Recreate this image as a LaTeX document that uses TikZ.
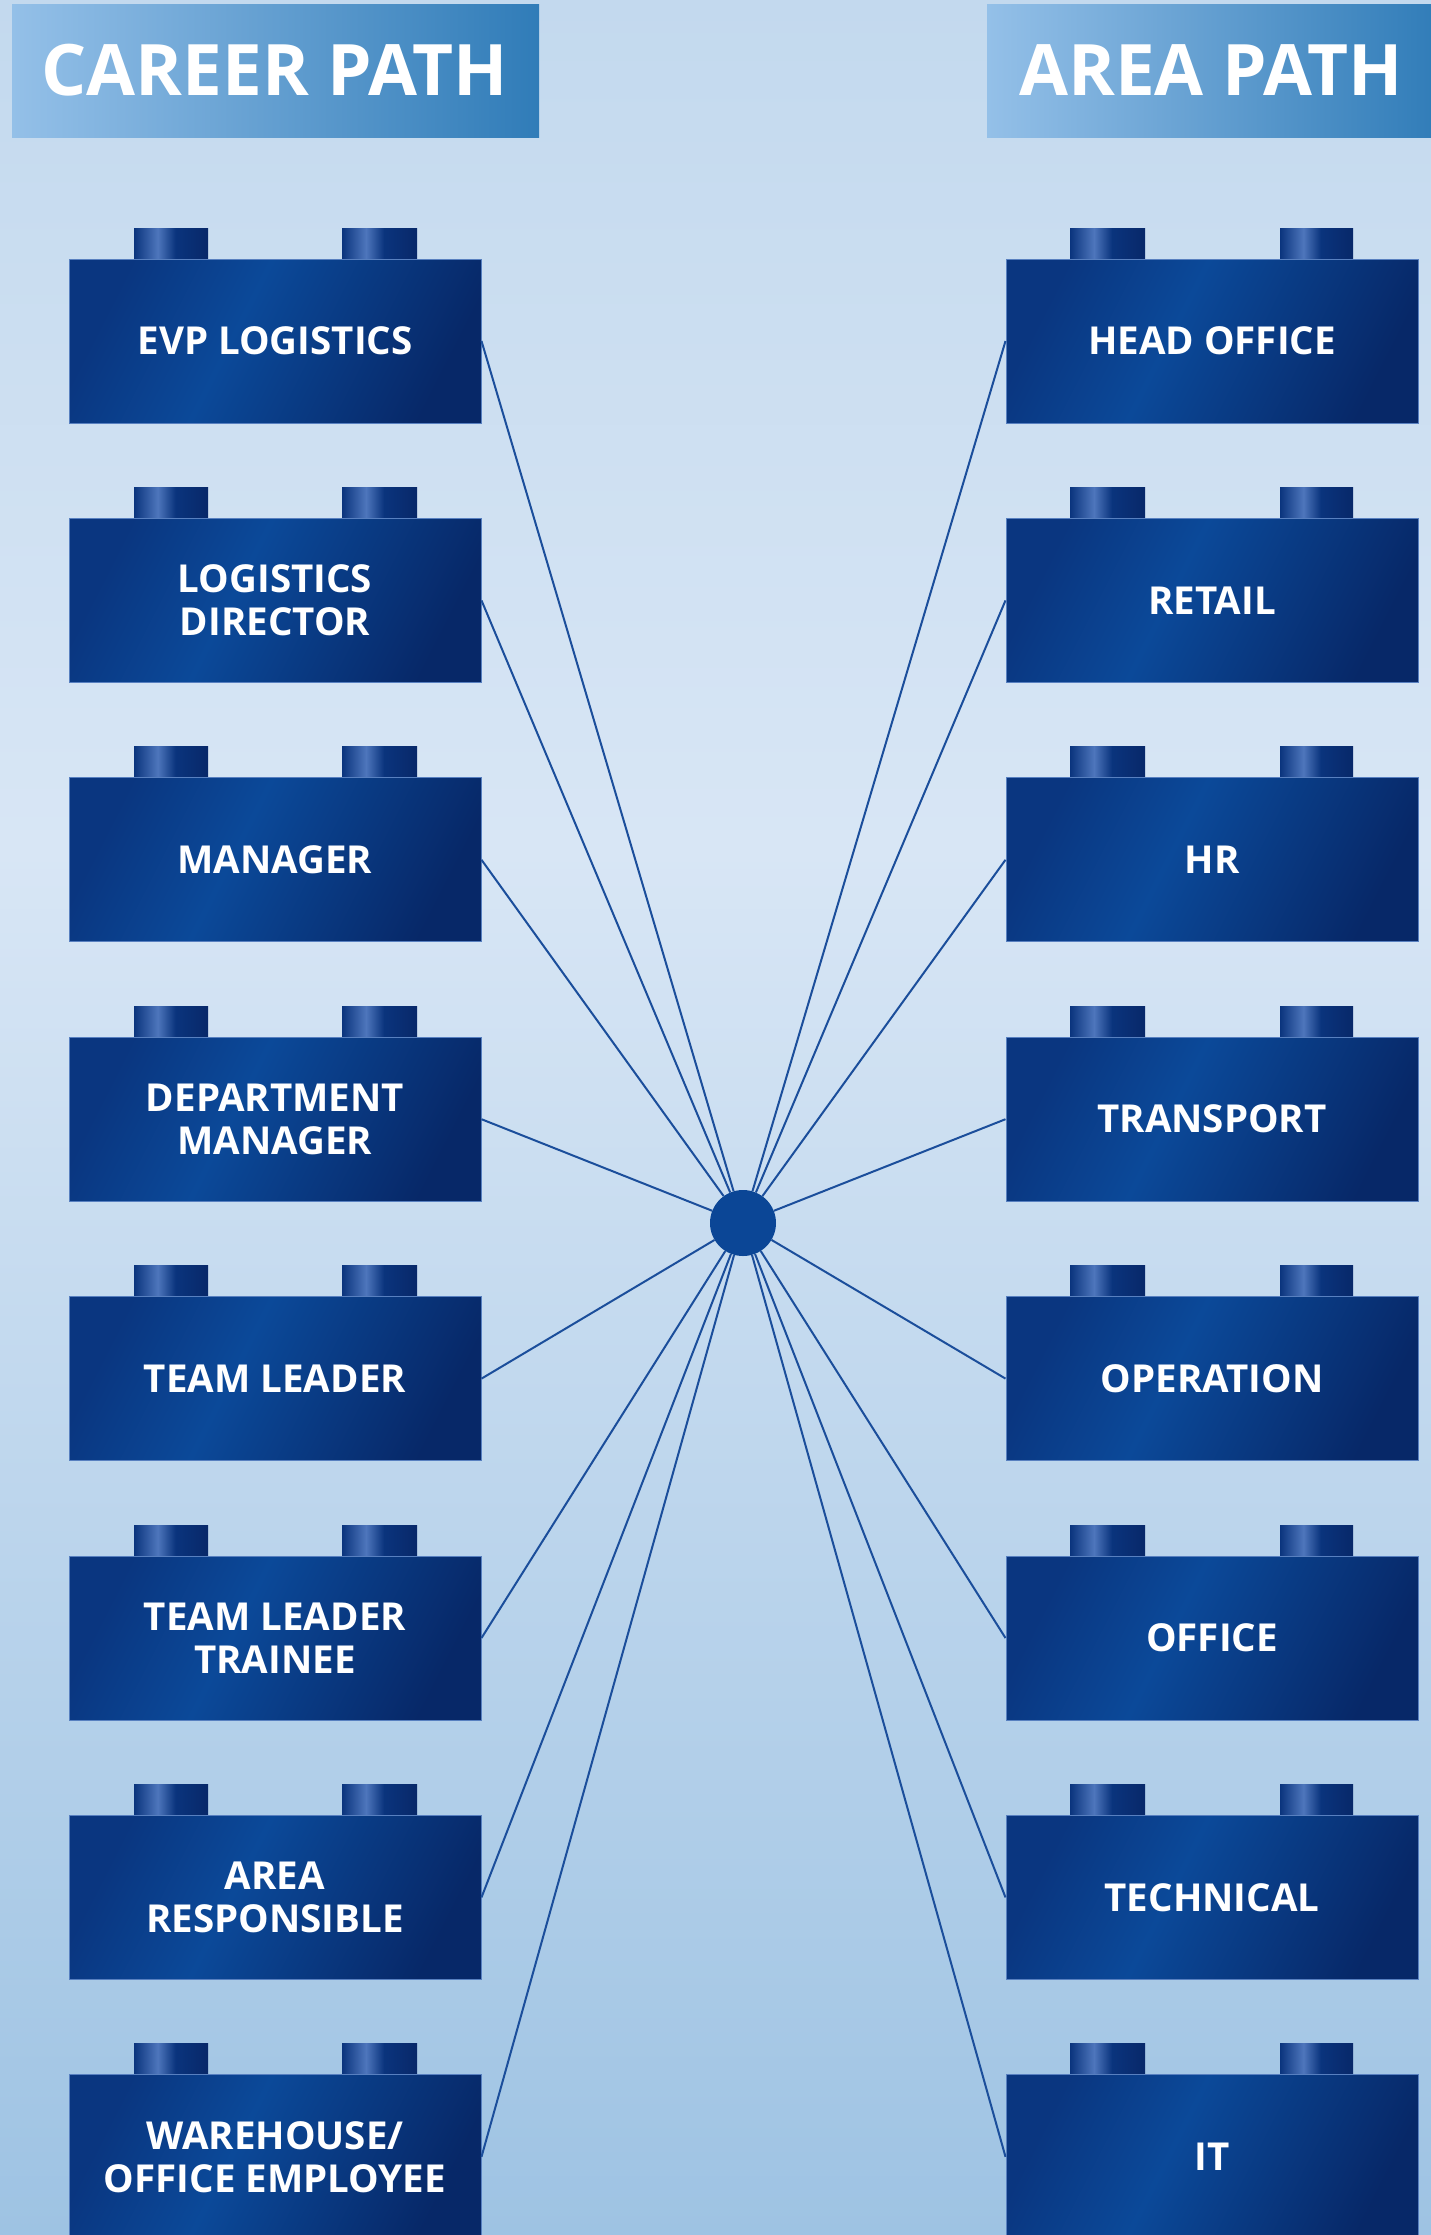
\documentclass[tikz,border=0pt]{standalone}
\usepackage{fontspec}
\setmainfont{Open Sans}
\definecolor{bgtop}{RGB}{195,217,238}
\definecolor{bgmid}{RGB}{216,230,245}
\definecolor{bgbot}{RGB}{158,195,227}
\definecolor{hdl}{RGB}{148,192,232}
\definecolor{hdr}{RGB}{48,124,184}
\definecolor{bxa}{RGB}{10,54,128}
\definecolor{bxb}{RGB}{11,73,153}
\definecolor{bxc}{RGB}{7,40,104}
\definecolor{bxedge}{RGB}{88,128,192}
\definecolor{sta}{RGB}{10,52,125}
\definecolor{stb}{RGB}{78,118,188}
\definecolor{stc}{RGB}{8,40,105}
\definecolor{linkc}{RGB}{27,78,155}
\definecolor{hubc}{RGB}{11,70,150}
\pgfdeclareverticalshading{bgsh}{100bp}{color(0bp)=(bgbot); color(25bp)=(bgbot); color(56bp)=(bgmid); color(75bp)=(bgtop); color(100bp)=(bgtop)}
\pgfdeclarehorizontalshading{boxsh}{100bp}{color(0bp)=(bxa); color(25bp)=(bxa); color(44bp)=(bxb); color(75bp)=(bxc); color(100bp)=(bxc)}
\pgfdeclarehorizontalshading{studsh}{100bp}{color(0bp)=(sta); color(25bp)=(sta); color(41bp)=(stb); color(53bp)=(sta); color(75bp)=(stc); color(100bp)=(stc)}
\tikzset{
  brick/.style={shading=boxsh, shading angle=-27, draw=bxedge, line width=1pt,
    minimum width=412pt, minimum height=164pt,
    inner sep=0pt, text=white, align=center, font=\fontsize{38.5}{43}\selectfont\bfseries},
  stud/.style={shading=studsh},
  header/.style={left color=hdl, right color=hdr, draw=none},
  headtext/.style={text=white, font=\fontsize{71}{71}\selectfont\bfseries, inner sep=0pt},
  link/.style={draw=linkc, line width=2pt},
}
\begin{document}
\begin{tikzpicture}[x=1pt,y=-1pt]
\useasboundingbox (0,0) rectangle (1431,2235);
\clip (0,0) rectangle (1431,2235);
\shade[shading=bgsh] (0,0) rectangle (1431,2235);
% headers
\shade[header] (12,4) rectangle (539,137);
\node[headtext] (hleft) at (275,70.5) {CAREER PATH};
\shade[header] (987,4) rectangle (1440,137);
\node[headtext] (hright) at (1211,70.5) {AREA PATH};
% hub
\node[circle, fill=hubc, minimum size=66pt, inner sep=0pt] (hub) at (743,1223) {};
% left bricks
\foreach \i/\txt in {0/{EVP LOGISTICS},1/{LOGISTICS\\DIRECTOR},2/{MANAGER},3/{DEPARTMENT\\MANAGER},4/{TEAM LEADER},5/{TEAM LEADER\\TRAINEE},6/{AREA\\RESPONSIBLE},7/{WAREHOUSE/\\OFFICE EMPLOYEE}}{
  \pgfmathsetmacro\tp{259+259.4*\i}
  \shade[stud] (134,\tp-31) rectangle (208,\tp);
  \shade[stud] (342,\tp-31) rectangle (417,\tp);
  \node[brick] (l\i) at (275,\tp+82) {\txt};
}
% right bricks
\foreach \i/\txt in {0/{HEAD OFFICE},1/{RETAIL},2/{HR},3/{TRANSPORT},4/{OPERATION},5/{OFFICE},6/{TECHNICAL},7/{IT}}{
  \pgfmathsetmacro\tp{259+259.4*\i}
  \shade[stud] (1070,\tp-31) rectangle (1145,\tp);
  \shade[stud] (1280,\tp-31) rectangle (1353,\tp);
  \node[brick] (r\i) at (1212,\tp+82) {\txt};
}
% connectors
\foreach \i in {0,...,7}{
  \draw[link] (l\i.east) -- (hub);
  \draw[link] (r\i.west) -- (hub);
}
\end{tikzpicture}
\end{document}
